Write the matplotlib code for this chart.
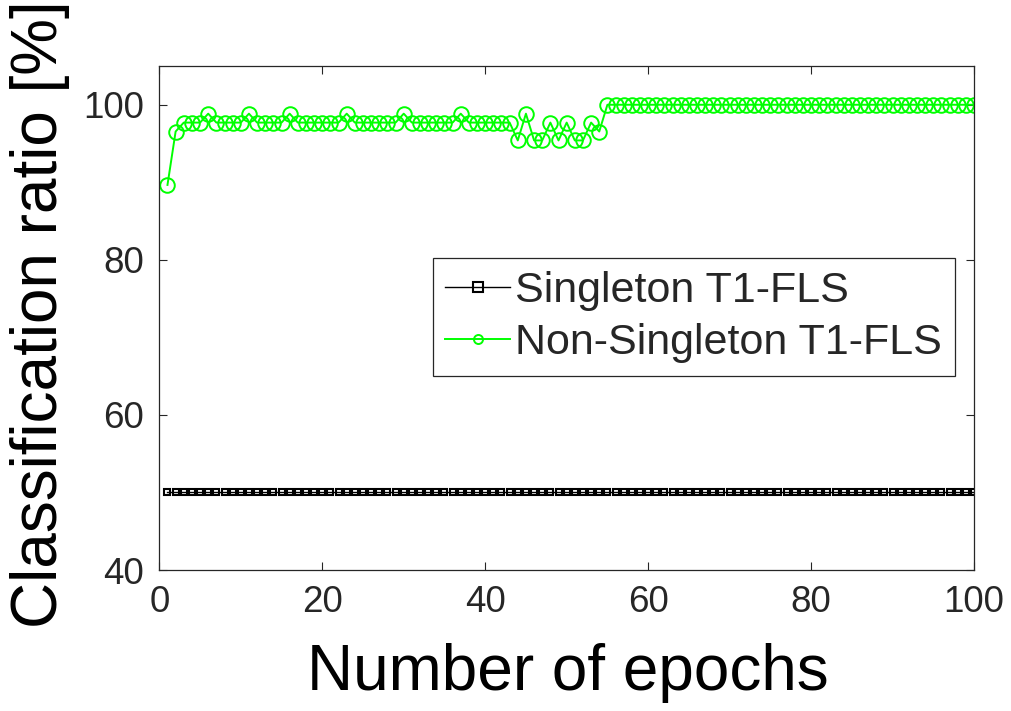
import matplotlib
matplotlib.use("Agg")
import matplotlib.pyplot as plt
import numpy as np

plt.rcParams.update({
    "font.family": ["Liberation Sans", "DejaVu Sans"],
    "text.color": "#262626",
    "axes.edgecolor": "#262626",
    "xtick.color": "#262626",
    "ytick.color": "#262626",
})

# epochs 1..100
epochs = np.arange(1, 101)

# singleton T1-FLS stays flat at 50 %
singleton = [50.0] * 100

# non-singleton T1-FLS
nonsingleton = (
    [89.66, 96.55, 97.70, 97.70, 97.70, 98.85, 97.70, 97.70, 97.70, 97.70,
     98.85, 97.70, 97.70, 97.70, 97.70, 98.85, 97.70, 97.70, 97.70, 97.70,
     97.70, 97.70, 98.85, 97.70, 97.70, 97.70, 97.70, 97.70, 97.70, 98.85,
     97.70, 97.70, 97.70, 97.70, 97.70, 97.70, 98.85, 97.70, 97.70, 97.70,
     97.70, 97.70, 97.70, 95.40, 98.85, 95.40, 95.40, 97.70, 95.40, 97.70,
     95.40, 95.40, 97.70, 96.55]
    + [100.0] * 46
)

x_ticks = [0, 20, 40, 60, 80, 100]
y_ticks = [40, 60, 80, 100]

fig = plt.figure(figsize=(10.11, 7.11), dpi=100)
ax = fig.add_axes([0.1576, 0.1983, 0.8058, 0.7089])

ax.plot(epochs, singleton, color="black", linewidth=1.0, marker="s",
        markersize=5, markerfacecolor="none", markeredgewidth=1.5,
        label="Singleton T1-FLS")
ax.plot(epochs, nonsingleton, color="#00ff00", linewidth=1.4, marker="o",
        markersize=10.5, markerfacecolor="none", markeredgewidth=1.4,
        label="Non-Singleton T1-FLS")

ax.set_xlim(0, 100)
ax.set_ylim(40, 105)
ax.set_xticks(x_ticks)
ax.set_yticks(y_ticks)
ax.tick_params(axis="both", direction="in", length=6, width=0.8,
               labelsize=26.5, top=True, right=True)
ax.tick_params(axis="x", pad=11)
ax.tick_params(axis="y", pad=11)
for s in ax.spines.values():
    s.set_linewidth(0.9)

ax.set_xlabel("Number of epochs", fontsize=46)
ax.xaxis.set_label_coords(0.5017, -0.145)
ax.set_ylabel("Classification ratio [%]", fontsize=46)
ax.yaxis.set_label_coords(-0.11, 0.508)

leg = ax.legend(loc="upper right", bbox_to_anchor=(0.9767, 0.619),
                fontsize=31, numpoints=1, handlelength=1.5,
                handletextpad=0.12, borderpad=0.3, labelspacing=0.28,
                borderaxespad=0, fancybox=False, framealpha=1)
leg.get_frame().set_edgecolor("#262626")
leg.get_frame().set_linewidth(0.9)
for h in leg.legend_handles:
    h.set_markersize(6.5)

fig.savefig("out.png", dpi=100)
